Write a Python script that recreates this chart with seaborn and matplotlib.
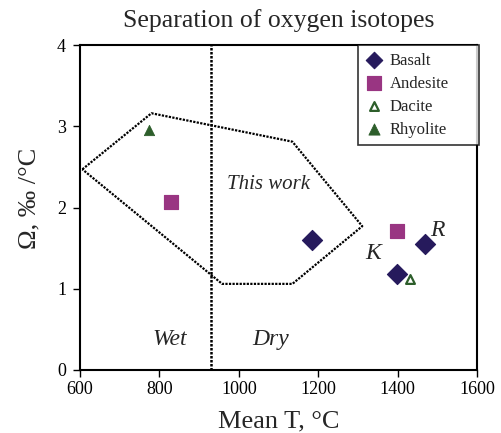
import matplotlib
matplotlib.use("Agg")
import matplotlib.pyplot as plt
import seaborn as sns
import pandas as pd

# Measured samples (mean temperature, separation Omega)
rock_types = ["Basalt", "Basalt", "Basalt", "Andesite", "Andesite", "Dacite", "Rhyolite"]
mean_t = [1185, 1470, 1398, 829, 1399, 1431, 775]
omega = [1.60, 1.55, 1.18, 2.07, 1.71, 1.12, 2.95]

# Field outlining this work
field_t = [606, 780, 1135, 1311, 1135, 958, 606]
field_omega = [2.47, 3.16, 2.81, 1.77, 1.06, 1.06, 2.47]

wet_dry_boundary = 930

x_ticks = [600, 800, 1000, 1200, 1400, 1600]
y_ticks = [0, 1, 2, 3, 4]

sns.set_theme(style="ticks")
serif = ["Liberation Serif", "DejaVu Serif"]
plt.rcParams["font.family"] = serif

df = pd.DataFrame({"rock": rock_types, "T": mean_t, "omega": omega})

fig = plt.figure(figsize=(5.02, 4.33), dpi=100)
ax = fig.add_axes([80 / 502, 1 - 370 / 433, 397 / 502, 325 / 433])

styles = {
    "Basalt": dict(marker="D", s=105, color="#261a5c", edgecolor="#261a5c"),
    "Andesite": dict(marker="s", s=110, color="#993582", edgecolor="#993582"),
    "Dacite": dict(marker="^", s=40, color="white", edgecolor="#2d5e2b", linewidth=1.6),
    "Rhyolite": dict(marker="^", s=55, color="#2d5e2b", edgecolor="#2d5e2b"),
}
legend_sizes = {"Basalt": 70, "Andesite": 110, "Dacite": 40, "Rhyolite": 65}

ax.plot(field_t, field_omega, color="black", linestyle=(0, (1, 0.6)), linewidth=1.6, zorder=1)
ax.axvline(wet_dry_boundary, color="black", linestyle=(0, (1, 0.6)), linewidth=1.8, zorder=1)

for rock, st in styles.items():
    sub = df[df["rock"] == rock]
    sns.scatterplot(data=sub, x="T", y="omega", ax=ax, label=rock, zorder=3, **st)

ax.set_xlim(600, 1600)
ax.set_ylim(0, 4)
ax.set_xticks(x_ticks)
ax.set_yticks(y_ticks)
ax.tick_params(axis="both", labelsize=13, length=5, width=1, direction="out",
               colors="black")
ax.tick_params(axis="x", pad=3)
ax.tick_params(axis="y", pad=5)
for side in ["top", "right", "bottom", "left"]:
    ax.spines[side].set_visible(True)
    ax.spines[side].set_color("black")
    ax.spines[side].set_linewidth(1.5)

ax.set_xlabel("Mean T, °C", fontsize=19, labelpad=9)
ax.set_ylabel("")
fig.text(0.058, 0.543, "Ω, ‰ /°C", rotation=90, fontsize=19, ha="center", va="center")
ax.set_title("Separation of oxygen isotopes", fontsize=18.5, pad=13)

ax.text(1075, 2.28, "This work", style="italic", fontsize=15, ha="center", va="center")
ax.text(827, 0.37, "Wet", style="italic", fontsize=17, ha="center", va="center")
ax.text(1079, 0.37, "Dry", style="italic", fontsize=17, ha="center", va="center")
ax.text(1339, 1.43, "K", style="italic", fontsize=17, ha="center", va="center")
ax.text(1500, 1.72, "R", style="italic", fontsize=17, ha="center", va="center")

leg = ax.legend(loc="upper left", bbox_to_anchor=(0.700, 0.68, 0.305, 0.32),
                mode="expand", frameon=True, fancybox=False, fontsize=12,
                borderaxespad=0, handletextpad=0.45, labelspacing=0.42,
                borderpad=0.45, handlelength=1.0)
leg.get_frame().set_edgecolor("black")
leg.get_frame().set_linewidth(1.2)
for handle, text in zip(leg.legend_handles, leg.get_texts()):
    handle.set_sizes([legend_sizes[text.get_text()]])

fig.savefig("out.png", dpi=100)
